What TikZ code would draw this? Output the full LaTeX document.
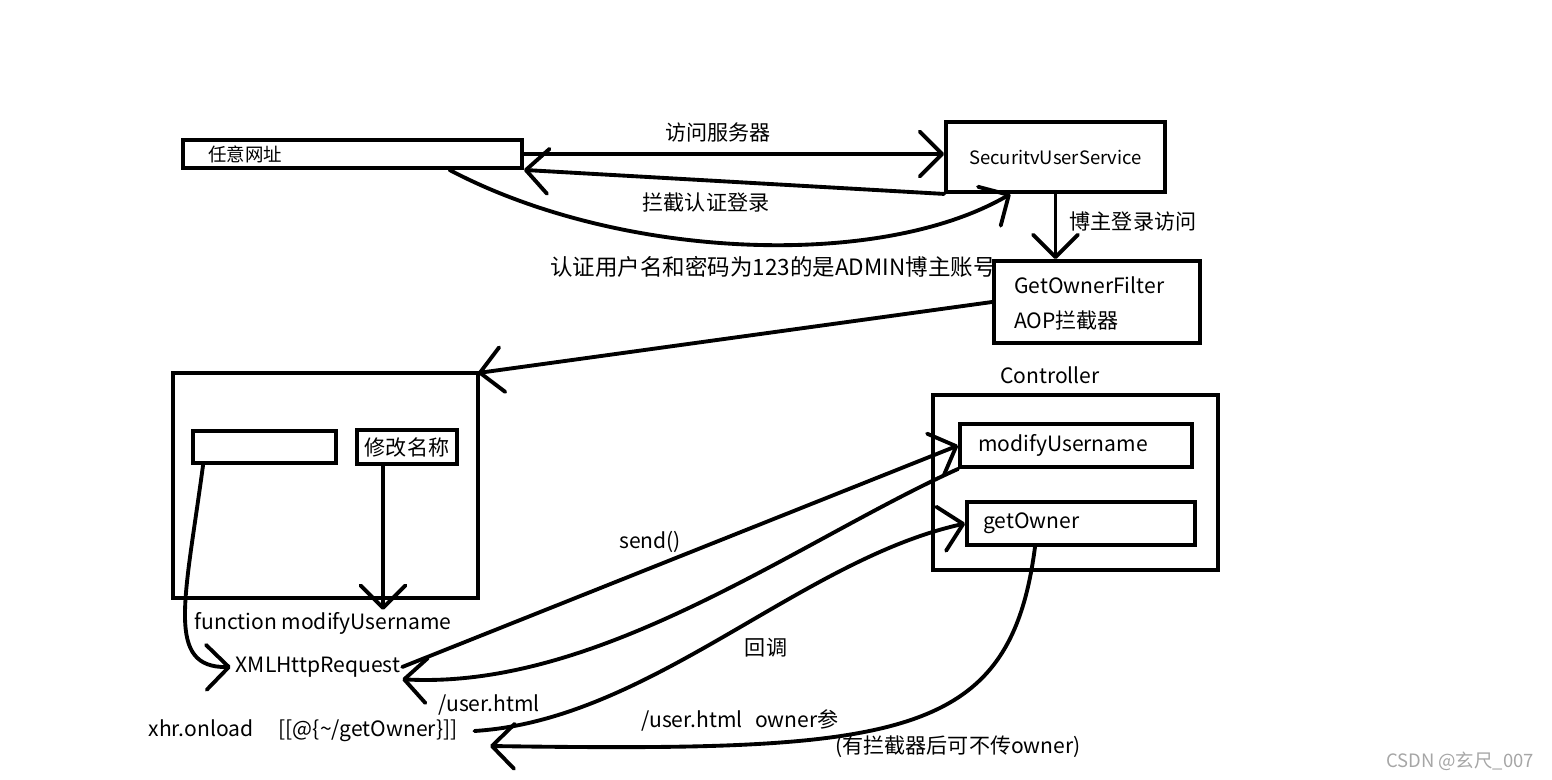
\documentclass[tikz,border=0pt]{standalone}
\usepackage{fontspec}
\setmainfont{Noto Sans CJK SC}
\usetikzlibrary{arrows.meta,calc}
\tikzset{
  box/.style={draw,line width=2.2pt,inner sep=0pt},
  txt/.style={inner sep=1pt,font=\fontsize{12}{14}\selectfont},
  small/.style={inner sep=1pt,font=\fontsize{10.5}{12}\selectfont},
  flow/.style={line width=2.2pt,line cap=round,-{Straight Barb[length=4.5mm,width=9mm,round]}},
}
\begin{document}
\begin{tikzpicture}[x=0.02cm,y=-0.02cm]
\useasboundingbox (0,0) rectangle (1552,780);
% Login part
\node[box,minimum width=6.78cm,minimum height=0.56cm] (site) at (352.5,154) {};
\node[small,anchor=west] (siteT) at (206,154) {任意网址};
\node[box,minimum width=4.38cm,minimum height=1.4cm,small] (sec) at (1055.5,157) {SecuritvUserService};
\node[box,minimum width=4.12cm,minimum height=1.64cm] (filter) at (1097,302) {};
\node[txt,anchor=west] (filterA) at (1012,285) {GetOwnerFilter};
\node[txt,anchor=west] (filterB) at (1012,321) {AOP拦截器};

\draw[flow] (site.east) -- (site.east -| sec.west);
\draw[flow] (sec.south west) -- (site.south east);
\draw[flow] ([xshift=1.94cm]site.south) .. controls (620,260) and (880,270) .. ([xshift=-0.9cm]sec.south);
\draw[flow] (sec.south) -- (sec.south |- filter.north);
\draw[flow] (filter.west) -- (478,373) coordinate (pageTop);

\node[txt] (visit) at (718,133) {访问服务器};
\node[txt] (block) at (706,203) {拦截认证登录};
\node[txt,font=\fontsize{12.8}{14}\selectfont] (auth) at (773,267) {认证用户名和密码为123的是ADMIN博主账号};
\node[txt] (owner) at (1133,222) {博主登录访问};

% Page
\node[box,minimum width=6.1cm,minimum height=4.5cm] (page) at (325.5,485.5) {};
\node[box,minimum width=2.86cm,minimum height=0.64cm] (input) at (264.5,447) {};
\node[box,minimum width=2.0cm,minimum height=0.68cm,txt] (btn) at (407,447) {修改名称};
\node[txt] (fn) at (323,623) {function modifyUsername};
\node[txt] (xhr) at (318,667) {XMLHttpRequest};
\node[txt] (onload) at (303,731) {xhr.onload\hspace{1.2em}[[@\{\textasciitilde/getOwner\}]]};

\draw[flow] ([xshift=-0.48cm]btn.south) -- ([xshift=-0.48cm]btn.south |- fn.north);
\draw[flow] ([xshift=0.24cm]input.south west) .. controls (185,600) and (165,668) .. ([xshift=-0.06cm]xhr.west);

% Controller
\node[txt] (ctrlT) at (1050,375) {Controller};
\node[box,minimum width=5.7cm,minimum height=3.5cm] (ctrl) at (1075.5,482.5) {};
\node[box,minimum width=4.64cm,minimum height=0.86cm] (mod) at (1076,445.5) {};
\node[txt,anchor=west] (modT) at (976,445) {modifyUsername};
\node[box,minimum width=4.56cm,minimum height=0.86cm] (get) at (1081,523.5) {};
\node[txt,anchor=west] (getT) at (981,523) {getOwner};

\draw[flow] (xhr.east) -- (mod.west);
\draw[flow] (mod.south west) .. controls (800,540) and (600,690) .. (xhr.south east);
\draw[flow] ([xshift=0.3cm]onload.east) .. controls (650,720) and (800,560) .. (get.west);
\coordinate (ret) at (490,746);
\draw[flow] ([xshift=-0.92cm]get.south) .. controls (1010,740) and (900,752) .. (ret);

\node[txt] (send) at (650,542) {send()};
\node[txt] (path) at (489,705) {/user.html};
\node[txt] (cb) at (766,648) {回调};
\node[txt] (param) at (740,720) {/user.html\hspace{0.6em}owner参};
\node[txt] (note) at (958,747) {(有拦截器后可不传owner)};

% Watermark
\node[small,text=gray!70] (mark) at (1460,761) {CSDN @玄尺\_007};
\end{tikzpicture}
\end{document}
